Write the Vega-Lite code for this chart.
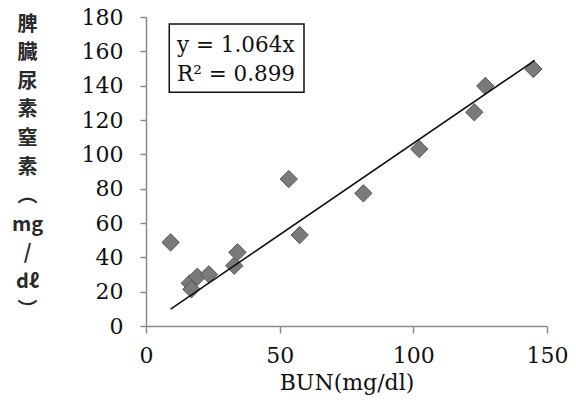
{
  "$schema": "https://vega.github.io/schema/vega-lite/v6.json",
  "autosize": {"type": "none"},
  "padding": {"left": 146, "top": 17, "right": 29, "bottom": 84},
  "width": 401,
  "height": 309,
  "background": "white",
  "config": {
    "view": {"stroke": null},
    "font": "DejaVu Serif",
    "axis": {"labelOverlap": false, "labelBound": false}
  },
  "datasets": {
    "pts": [
      {"bun": 9.2, "spleen": 48.7},
      {"bun": 16.4, "spleen": 24.9},
      {"bun": 17.0, "spleen": 21.4},
      {"bun": 19.2, "spleen": 28.7},
      {"bun": 23.5, "spleen": 30.1},
      {"bun": 33.0, "spleen": 35.1},
      {"bun": 34.2, "spleen": 42.9},
      {"bun": 53.4, "spleen": 85.6},
      {"bun": 57.5, "spleen": 53.0},
      {"bun": 81.3, "spleen": 77.3},
      {"bun": 102.2, "spleen": 103.1},
      {"bun": 122.8, "spleen": 124.5},
      {"bun": 126.9, "spleen": 139.8},
      {"bun": 144.9, "spleen": 149.7}
    ],
    "trend": [
      {"bun": 9.2, "spleen": 9.79},
      {"bun": 145.4, "spleen": 154.7}
    ]
  },
  "layer": [
    {
      "data": {"name": "pts"},
      "mark": {"type": "point", "shape": "diamond", "filled": true, "size": 300, "color": "#7a7a7a", "stroke": "#555555", "strokeWidth": 1, "opacity": 1},
      "encoding": {
        "x": {
          "field": "bun", "type": "quantitative",
          "scale": {"domain": [0, 150], "nice": false},
          "axis": {
            "title": "BUN(mg/dl)",
            "values": [0, 50, 100, 150],
            "grid": false,
            "labelOverlap": false,
            "domainColor": "#8a8a8a", "domainWidth": 1.5,
            "tickColor": "#8a8a8a", "tickWidth": 1.5, "tickSize": 7,
            "labelFont": "DejaVu Serif", "labelFontSize": 22, "labelColor": "#111111", "labelPadding": 12,
            "labelFlush": false,
            "titleFont": "DejaVu Serif", "titleFontSize": 22, "titleFontWeight": "normal", "titleColor": "#111111", "titlePadding": 6
          }
        },
        "y": {
          "field": "spleen", "type": "quantitative",
          "scale": {"domain": [0, 180], "nice": false},
          "axis": {
            "title": ["脾", "臓", "尿", "素", "窒", "素", "︵", "mg", "/", "dℓ", "︶"],
            "titleAngle": 0,
            "titleAlign": "center",
            "titleBaseline": "top",
            "titleX": -119,
            "titleY": -3,
            "titleLineHeight": 28.6,
            "titleFont": "Noto Sans CJK JP",
            "titleFontSize": 20,
            "titleFontWeight": "bold",
            "titleColor": "#2a2a2a",
            "values": [0, 20, 40, 60, 80, 100, 120, 140, 160, 180],
            "tickCount": 10,
            "grid": false,
            "labelOverlap": false,
            "domainColor": "#8a8a8a", "domainWidth": 1.5,
            "tickColor": "#8a8a8a", "tickWidth": 1.5, "tickSize": 6,
            "labelFont": "DejaVu Serif", "labelFontSize": 22, "labelColor": "#111111", "labelPadding": 17,
            "labelFlush": false
          }
        }
      }
    },
    {
      "data": {"name": "trend"},
      "mark": {"type": "line", "color": "#111111", "strokeWidth": 1.6},
      "encoding": {
        "x": {"field": "bun", "type": "quantitative"},
        "y": {"field": "spleen", "type": "quantitative"}
      }
    },
    {
      "data": {"values": [{}]},
      "mark": {"type": "rect", "fill": "white", "stroke": "#111111", "strokeWidth": 1.5},
      "encoding": {
        "x": {"datum": 8.7},
        "x2": {"datum": 59.1},
        "y": {"datum": 175.9},
        "y2": {"datum": 136.1}
      }
    },
    {
      "data": {"values": [{}]},
      "mark": {"type": "text", "align": "left", "baseline": "alphabetic", "font": "DejaVu Serif", "fontSize": 21.5, "color": "#111111"},
      "encoding": {
        "x": {"datum": 11.6},
        "y": {"datum": 159.5},
        "text": {"value": "y = 1.064x"}
      }
    },
    {
      "data": {"values": [{}]},
      "mark": {"type": "text", "align": "left", "baseline": "alphabetic", "font": "DejaVu Serif", "fontSize": 21.5, "color": "#111111"},
      "encoding": {
        "x": {"datum": 11.6},
        "y": {"datum": 142.5},
        "text": {"value": "R² = 0.899"}
      }
    }
  ]
}
